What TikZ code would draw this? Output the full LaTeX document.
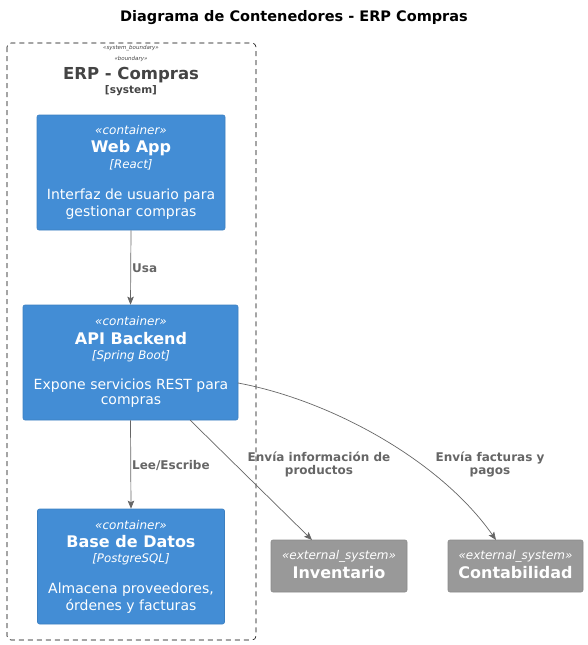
\documentclass[tikz,border=0pt]{standalone}
\usepackage{fontspec}
\setmainfont{DejaVu Sans}
\usetikzlibrary{arrows.meta}
\definecolor{cblue}{HTML}{438DD5}
\definecolor{cblueb}{HTML}{3C7FC0}
\definecolor{cgray}{HTML}{999999}
\definecolor{cgrayb}{HTML}{8A8A8A}
\definecolor{arr}{HTML}{666666}
\definecolor{btext}{HTML}{444444}
\tikzset{
  box/.style={draw=cblueb, fill=cblue, rounded corners=2pt, line width=0.6pt, inner sep=0pt},
  extbox/.style={draw=cgrayb, fill=cgray, rounded corners=2pt, line width=0.6pt, inner sep=0pt},
  txt/.style={inner sep=0pt, text=white, anchor=center},
  stereo/.style={txt, font=\fontsize{12}{14}\selectfont\itshape},
  ttl/.style={txt, font=\fontsize{16}{19}\selectfont\bfseries},
  tech/.style={txt, font=\fontsize{11.8}{13}\selectfont\itshape},
  desc/.style={txt, font=\fontsize{14}{16}\selectfont},
  rel/.style={draw=arr, line width=0.7pt, -{Stealth[length=8pt,width=6.5pt,inset=1.5pt]}},
  rlab/.style={inner sep=0pt, text=arr, font=\fontsize{12}{13}\selectfont\bfseries, align=center}
}
\begin{document}
\begin{tikzpicture}[x=1pt,y=-1pt]
\useasboundingbox (0,0) rectangle (588,645);
% title
\node[inner sep=0pt, font=\fontsize{14.5}{16}\selectfont\bfseries] (title) at (294,18) {Diagrama de Contenedores - ERP Compras};
% boundary
\draw[dash pattern=on 5pt off 4pt, line width=0.6pt, rounded corners=4pt, black] (7,43) rectangle (256,640);
\node[inner sep=0pt, text=btext, font=\fontsize{5.5}{6}\selectfont\itshape] (bst1) at (131,48) {«system\_boundary»};
\node[inner sep=0pt, text=btext, font=\fontsize{5.5}{6}\selectfont\itshape] (bst2) at (131,59) {«boundary»};
\node[inner sep=0pt, text=btext, font=\fontsize{16.5}{18}\selectfont\bfseries] (bname) at (131,75) {ERP - Compras};
\node[inner sep=0pt, text=btext, font=\fontsize{10.5}{12}\selectfont\bfseries] (btype) at (131,91) {[system]};
% Web App
\node[box, minimum width=188pt, minimum height=115pt] (web) at (131,172.5) {};
\node[stereo] (web1) at (131,130) {«container»};
\node[ttl] (web2) at (131,148) {Web App};
\node[tech] (web3) at (131,165) {[React]};
\node[desc] (web4) at (131,196) {Interfaz de usuario para};
\node[desc] (web5) at (131,213) {gestionar compras};
% API
\node[box, minimum width=215pt, minimum height=115pt] (api) at (130.5,362.5) {};
\node[stereo] (api1) at (131,321) {«container»};
\node[ttl] (api2) at (131,339) {API Backend};
\node[tech] (api3) at (131,356) {[Spring Boot]};
\node[desc] (api4) at (131,386) {Expone servicios REST para};
\node[desc] (api5) at (131,402) {compras};
% DB
\node[box, minimum width=187pt, minimum height=115pt] (db) at (131,566.5) {};
\node[stereo] (db1) at (131,525) {«container»};
\node[ttl] (db2) at (131,542) {Base de Datos};
\node[tech] (db3) at (131,559) {[PostgreSQL]};
\node[desc] (db4) at (131,590) {Almacena proveedores,};
\node[desc] (db5) at (131,606) {órdenes y facturas};
% external
\node[extbox, minimum width=136pt, minimum height=52pt] (inv) at (339,566) {};
\node[stereo] (inv1) at (339,556) {«external\_system»};
\node[ttl] (inv2) at (339,573) {Inventario};
\node[extbox, minimum width=135pt, minimum height=52pt] (cont) at (515.5,566) {};
\node[stereo] (cont1) at (515.5,556) {«external\_system»};
\node[ttl] (cont2) at (515.5,573) {Contabilidad};
% relations
\draw[rel] (web.south) -- (api.north);
\node[rlab, anchor=west] (l1) at (132,268) {Usa};
\draw[rel] (api.south) -- (db.north);
\node[rlab, anchor=west] (l2) at (132,465) {Lee/Escribe};
\coordinate (apiA) at (190,420);
\coordinate (invT) at (312,540);
\draw[rel] (apiA) -- (invT);
\node[rlab] (l3) at (319,464.5) {Envía información de\\productos};
\coordinate (apiR) at (238,383);
\coordinate (contT) at (496,540);
\draw[rel] (apiR) .. controls (330,400) and (440,460) .. (contT);
\node[rlab] (l4) at (490,464.5) {Envía facturas y\\pagos};
\end{tikzpicture}
\end{document}
